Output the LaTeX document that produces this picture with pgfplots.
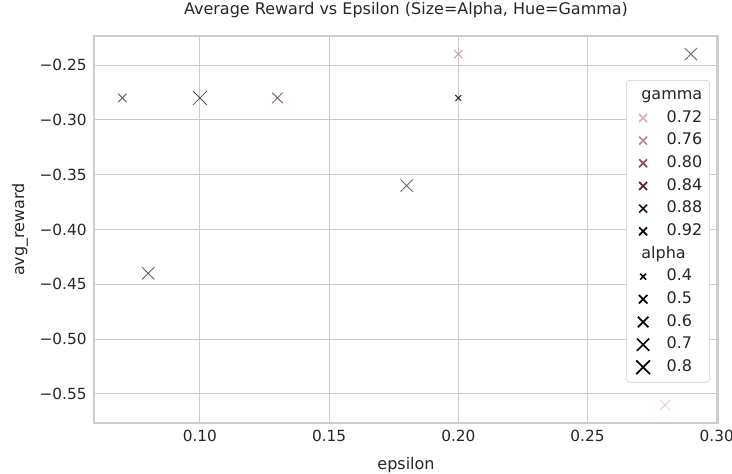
\documentclass[border=0pt]{standalone}
\usepackage{pgfplots}
\pgfplotsset{compat=1.18}
\usepackage{fontspec}
\setmainfont{DejaVu Sans}

\definecolor{g72}{HTML}{DDB3C2}
\definecolor{g76}{HTML}{BC8299}
\definecolor{g80}{HTML}{8E4A6B}
\definecolor{g84}{HTML}{5A213F}
\definecolor{g88}{HTML}{2A0E1E}
\definecolor{g92}{HTML}{0B0306}
\definecolor{gridc}{HTML}{CCCCCC}
\definecolor{txt}{HTML}{262626}

% marker sizes for alpha = 0.4 ... 0.8
\def\szA{3.1pt}\def\szB{4.5pt}\def\szC{5.6pt}\def\szD{6.5pt}\def\szE{7.3pt}

\begin{document}
\begin{tikzpicture}
\begin{axis}[
    name=ax,
    scale only axis,
    width=468pt, height=290.25pt,
    xmin=0.059, xmax=0.3005,
    ymin=-0.5765, ymax=-0.2235,
    xtick={0.10,0.15,0.20,0.25,0.30},
    xticklabels={0.10,0.15,0.20,0.25,0.30},
    ytick={-0.55,-0.50,-0.45,-0.40,-0.35,-0.30,-0.25},
    yticklabels={−0.55,−0.50,−0.45,−0.40,−0.35,−0.30,−0.25},
    tick style={draw=none},
    major grid style={gridc, line width=0.8pt},
    xmajorgrids=true, ymajorgrids=true,
    axis line style={gridc, line width=1pt},
    tick label style={font=\fontsize{11.5}{13}\selectfont, text=txt},
    xticklabel style={yshift=-2pt},
    yticklabel style={xshift=-2pt},
    label style={font=\fontsize{12}{14}\selectfont, text=txt},
    xlabel={epsilon}, ylabel={avg\_reward},
    xlabel style={at={(axis description cs:0.5,-0.1085)}, anchor=center},
    ylabel style={at={(axis description cs:-0.1186,0.5)}, anchor=center},
    title={Average Reward vs Epsilon (Size=Alpha, Hue=Gamma)},
    title style={font=\fontsize{12}{14}\selectfont, text=txt,
        at={(axis description cs:0.5,1.0465)}, anchor=center},
    legend style={at={(0.987,0.886)}, anchor=north east, draw=gridc, rounded corners=2.5pt,
        font=\fontsize{12}{13.5}\selectfont, text=txt, row sep=2.6pt,
        column sep=11pt, inner sep=4pt,
        nodes={inner sep=1.5pt, text height=8.8pt, text depth=2.6pt}},
    legend cell align=left,
]
% scatter points: epsilon, avg_reward (each with its own gamma colour and alpha size)
\addplot[forget plot, only marks, mark=x, mark size=\szB, line width=0.65pt, draw=g88, opacity=0.75] coordinates {(0.07,-0.28)};
\addplot[forget plot, only marks, mark=x, mark size=\szE, line width=0.65pt, draw=g92, opacity=0.7] coordinates {(0.10,-0.28)};
\addplot[forget plot, only marks, mark=x, mark size=\szC, line width=0.65pt, draw=g84, opacity=0.8] coordinates {(0.13,-0.28)};
\addplot[forget plot, only marks, mark=x, mark size=\szD, line width=0.65pt, draw=g88, opacity=0.7] coordinates {(0.08,-0.44)};
\addplot[forget plot, only marks, mark=x, mark size=\szD, line width=0.65pt, draw=g92, opacity=0.6] coordinates {(0.18,-0.36)};
\addplot[forget plot, only marks, mark=x, mark size=\szB, line width=0.65pt, draw=g76, opacity=0.8] coordinates {(0.20,-0.24)};
\addplot[forget plot, only marks, mark=x, mark size=\szA, line width=0.8pt, draw=g92, opacity=0.85] coordinates {(0.20,-0.28)};
\addplot[forget plot, only marks, mark=x, mark size=\szD, line width=0.65pt, draw=g88, opacity=0.65] coordinates {(0.29,-0.24)};
\addplot[forget plot, only marks, mark=x, mark size=\szC, line width=0.65pt, draw=g72, opacity=0.7] coordinates {(0.28,-0.56)};

% legend
\addlegendimage{empty legend}\addlegendentry{\hspace{-19pt}gamma}
\addlegendimage{only marks, mark=x, mark size=4.2pt, line width=1.3pt, draw=g72}\addlegendentry{0.72}
\addlegendimage{only marks, mark=x, mark size=4.2pt, line width=1.3pt, draw=g76}\addlegendentry{0.76}
\addlegendimage{only marks, mark=x, mark size=4.2pt, line width=1.3pt, draw=g80}\addlegendentry{0.80}
\addlegendimage{only marks, mark=x, mark size=4.2pt, line width=1.3pt, draw=g84}\addlegendentry{0.84}
\addlegendimage{only marks, mark=x, mark size=4.2pt, line width=1.3pt, draw=g88}\addlegendentry{0.88}
\addlegendimage{only marks, mark=x, mark size=4.2pt, line width=1.3pt, draw=g92}\addlegendentry{0.92}
\addlegendimage{empty legend}\addlegendentry{\hspace{-19pt}alpha}
\addlegendimage{only marks, mark=x, mark size=\szA, line width=1.3pt, draw=g92}\addlegendentry{0.4}
\addlegendimage{only marks, mark=x, mark size=\szB, line width=1.3pt, draw=g92}\addlegendentry{0.5}
\addlegendimage{only marks, mark=x, mark size=\szC, line width=1.3pt, draw=g92}\addlegendentry{0.6}
\addlegendimage{only marks, mark=x, mark size=\szD, line width=1.3pt, draw=g92}\addlegendentry{0.7}
\addlegendimage{only marks, mark=x, mark size=\szE, line width=1.3pt, draw=g92}\addlegendentry{0.8}
\end{axis}
\pgfresetboundingbox
\path[use as bounding box] ([shift={(-70.5pt,-38.25pt)}]ax.south west) rectangle ++(549pt,355.5pt);
\end{tikzpicture}
\end{document}
